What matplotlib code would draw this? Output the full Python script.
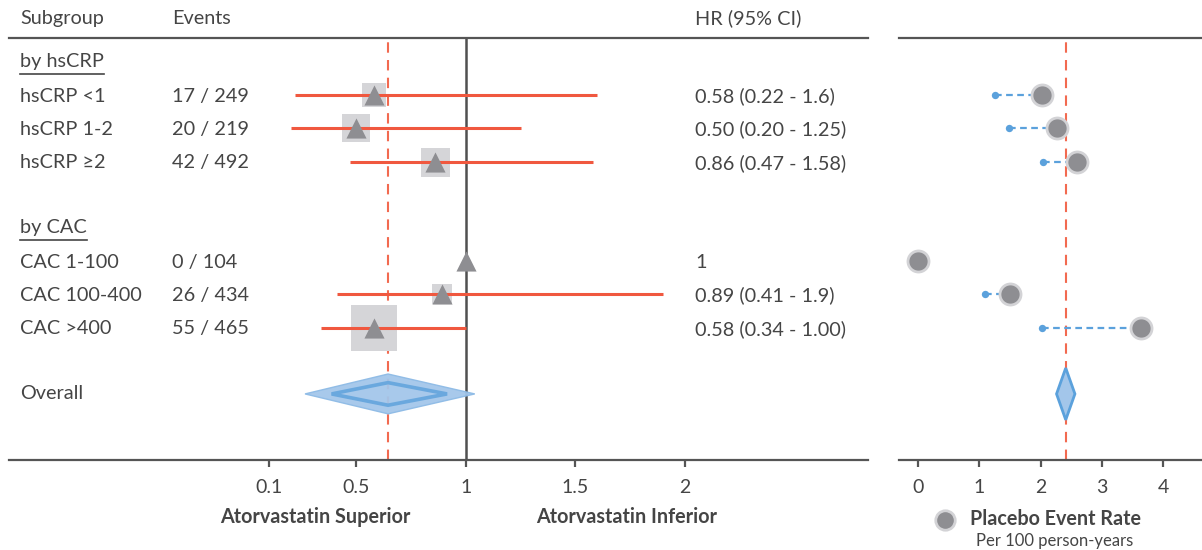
import numpy as np
import matplotlib.pyplot as plt
from matplotlib.patches import Polygon
from matplotlib.lines import Line2D

plt.rcParams['font.family'] = ['Lato', 'DejaVu Sans']

# Daten
subgroups = ["hsCRP <1", "hsCRP 1-2", "hsCRP \u22652", "CAC 1-100", "CAC 100-400", "CAC >400"]
events = ["17 / 249", "20 / 219", "42 / 492", "0 / 104", "26 / 434", "55 / 465"]
hr_text = ["0.58 (0.22 - 1.6)", "0.50 (0.20 - 1.25)", "0.86 (0.47 - 1.58)",
           "1", "0.89 (0.41 - 1.9)", "0.58 (0.34 - 1.00)"]
hr = [0.58, 0.50, 0.86, 1.0, 0.89, 0.58]
ci_lo = [0.22, 0.20, 0.47, np.nan, 0.41, 0.34]
ci_hi = [1.6, 1.25, 1.58, np.nan, 1.9, 1.00]
weight = [24, 28, 29, 0, 20, 46]       # box width in px (study weight)
rows = [1, 2, 3, 6, 7, 8]
headings = ["by hsCRP", "by CAC"]
heading_rows = [0, 5]

overall_hr = 0.644
overall_lo = 0.265
overall_hi = 1.04

placebo_rate = [2.02, 2.27, 2.60, 0.0, 1.50, 3.64]
atorva_rate = [1.26, 1.49, 2.04, np.nan, 1.09, 2.02]
overall_rate = 2.41

hr_ticks = [0.1, 0.5, 1, 1.5, 2]
rate_ticks = [0, 1, 2, 3, 4]

# Farben
TXT = "#454545"
AX = "#555555"
RED = "#f0583f"
RED_DASH = "#f26a50"
GRAY = "#8e8e92"
BOX = "#d5d5d8"
BLUE = "#5ba1dc"
BLUE_FILL = "#a3c6ea"
FS = 14.3

W, H = 1202, 550
fig = plt.figure(figsize=(W / 100, H / 100), dpi=100)

def frac(x0, x1, ytop, ybot):
    return [x0 / W, 1 - ybot / H, (x1 - x0) / W, (ybot - ytop) / H]

ax = fig.add_axes(frac(9, 868, 38, 460))
ax2 = fig.add_axes(frac(899, 1202, 38, 460))

ylim = (11.99, -0.72)
for a in (ax, ax2):
    a.set_ylim(*ylim)
    a.set_yticks([])
    for s in ("left", "right"):
        a.spines[s].set_visible(False)
    a.spines["top"].set_color(AX)
    a.spines["bottom"].set_color(AX)
    a.spines["top"].set_linewidth(1.6)
    a.spines["bottom"].set_linewidth(1.6)
    a.tick_params(axis="x", length=5, width=1.6, color=AX, labelcolor=TXT,
                  labelsize=14, pad=9)

ax.set_xlim(1 - 457 / 219, 1 + 402 / 219)
ax2.set_xlim(-19 / 61.3, 284 / 61.3)
ax.set_xticks(hr_ticks)
ax.set_xticklabels(["0.1", "0.5", "1", "1.5", "2"])
ax2.set_xticks(rate_ticks)

# Linke Seite
ax.axvline(1, color="#505050", lw=1.8, zorder=2)
ax.axvline(overall_hr, color=RED_DASH, lw=1.5, ls=(0, (5, 3.5)), zorder=1)

for i in range(len(rows)):
    r = rows[i]
    if not np.isnan(ci_lo[i]):
        ax.plot([ci_lo[i], ci_hi[i]], [r, r], color=RED, lw=2.2, zorder=3,
                solid_capstyle="butt")
    if weight[i] > 0:
        ax.scatter(hr[i], r, marker="s", s=(weight[i] * 0.72) ** 2, color=BOX,
                   linewidths=0, zorder=2)
    ax.scatter(hr[i], r, marker="^", s=210, color=GRAY, linewidths=0, zorder=4)

# Gesamt-Raute
yo = 10
outer = [(overall_lo, yo), (overall_hr, yo - 0.6), (overall_hi, yo), (overall_hr, yo + 0.6)]
inner_w = 0.68
inner = [(overall_hr - (overall_hr - overall_lo) * inner_w, yo), (overall_hr, yo - 0.34),
         (overall_hr + (overall_hi - overall_hr) * inner_w, yo), (overall_hr, yo + 0.34)]
ax.add_patch(Polygon(outer, closed=True, facecolor=BLUE_FILL, edgecolor="#8ebbe6",
                     lw=1, alpha=0.95, zorder=5))
ax.add_patch(Polygon(inner, closed=True, facecolor="none", edgecolor="#6aa8de",
                     lw=2.6, zorder=6))

# Texte
tr = ax.get_yaxis_transform()  # x in axes fraction, y in data
def xa(px):
    return (px - 9) / (868 - 9)

hdr_y = -1.32
ax.text(xa(20), hdr_y, "Subgroup", transform=tr, fontsize=FS, color=TXT,
        va="center", clip_on=False)
ax.text(xa(172), hdr_y, "Events", transform=tr, fontsize=FS, color=TXT,
        va="center", clip_on=False)
ax.text(xa(695), hdr_y, "HR (95% CI)", transform=tr, fontsize=FS, color=TXT,
        va="center", clip_on=False)

head_txt = []
for h, r in zip(headings, heading_rows):
    t = ax.text(xa(20), r - 0.02, h, transform=tr, fontsize=FS, color=TXT, va="center")
    head_txt.append((t, r))

for i in range(len(rows)):
    ax.text(xa(20), rows[i] + 0.04, subgroups[i], transform=tr, fontsize=FS, color=TXT, va="center")
    ax.text(xa(172), rows[i] + 0.04, events[i], transform=tr, fontsize=FS, color=TXT, va="center")
    ax.text(xa(695), rows[i] + 0.04, hr_text[i], transform=tr, fontsize=FS, color=TXT, va="center")
ax.text(xa(20), 10, "Overall", transform=tr, fontsize=FS, color=TXT, va="center")

fig.text(315 / W, 1 - 517 / H, "Atorvastatin Superior", ha="center", va="center",
         fontsize=14.2, color=TXT, weight="bold")
fig.text(627 / W, 1 - 517 / H, "Atorvastatin Inferior", ha="center", va="center",
         fontsize=14.2, color=TXT, weight="bold")

# Unterstreichungen
fig.canvas.draw()
rend = fig.canvas.get_renderer()
for t, r in head_txt:
    bb = t.get_window_extent(rend)
    x0 = (bb.x0 - 9) / (868 - 9)
    x1 = (bb.x1 - 9) / (868 - 9)
    ax.plot([x0, x1], [r + 0.36, r + 0.36], transform=tr, color=TXT, lw=1.2)

# Rechte Seite
ax2.axvline(overall_rate, color=RED_DASH, lw=1.5, ls=(0, (5, 3.5)), zorder=1)
for i in range(len(rows)):
    r = rows[i]
    if not np.isnan(atorva_rate[i]):
        ax2.plot([atorva_rate[i], placebo_rate[i]], [r, r], color=BLUE, lw=1.6,
                 ls=(0, (3, 2)), zorder=2)
        ax2.scatter(atorva_rate[i], r, s=28, color=BLUE, linewidths=0, zorder=3)
    ax2.scatter(placebo_rate[i], r, s=230, color=GRAY, edgecolors="#d3d3d6",
                linewidths=2, zorder=4)

ro = [(overall_rate - 0.15, yo), (overall_rate, yo - 0.78),
      (overall_rate + 0.15, yo), (overall_rate, yo + 0.78)]
ax2.add_patch(Polygon(ro, closed=True, facecolor=BLUE_FILL, edgecolor=BLUE, lw=2, zorder=5))

# Legende
fig.add_artist(Line2D([945 / W], [1 - 520 / H], marker="o", markersize=14,
                      color=GRAY, markeredgecolor="#d3d3d6", markeredgewidth=2,
                      transform=fig.transFigure))
fig.text(1055 / W, 1 - 519 / H, "Placebo Event Rate", ha="center", va="center",
         fontsize=14.2, color=TXT, weight="bold")
fig.text(1055 / W, 1 - 541 / H, "Per 100 person-years", ha="center", va="center",
         fontsize=12, color=TXT)

fig.savefig("out.png", dpi=100)
